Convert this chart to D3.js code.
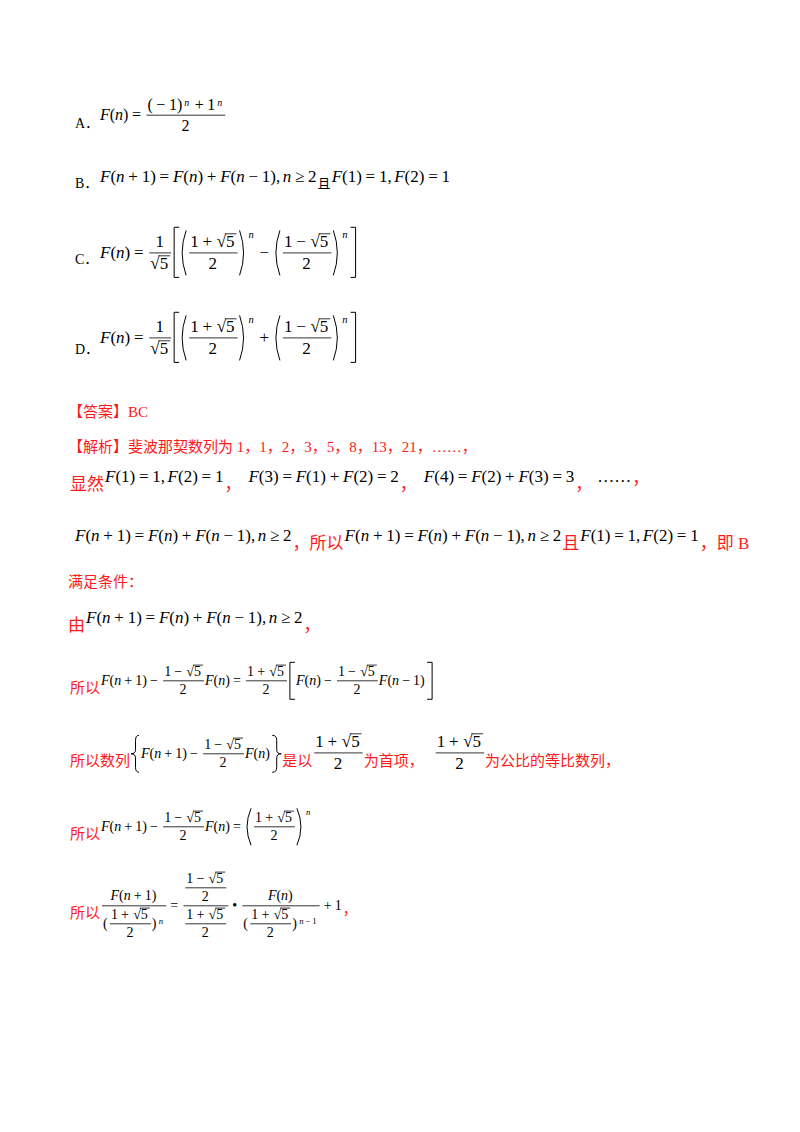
<!DOCTYPE html>
<html><head><meta charset="utf-8">
<script src="https://cdn.jsdelivr.net/npm/d3@7"></script>
<style>body{margin:0;background:#fff}</style>
</head><body>
<svg id="page" width="800" height="1132"></svg>
<script>
var RED = '#ff1a1a';
var MATHFONT = "Liberation Serif, Noto Sans CJK SC";

// text content
var optionLabels = ['A．', 'B．', 'C．', 'D．'];
var answerText = '【答案】BC';
var analysisText = '【解析】斐波那契数列为 1，1，2，3，5，8，13，21，……，';
var conditionText = '满足条件：';

function sq5() { return {sq: '5'}; }
function half(sign) { return {fr: [['1 ' + sign + ' ', sq5()], ['2']]}; }
var recur = 'F(n + 1) = F(n) + F(n − 1), n ≥ 2';

// each line: [x, baseline y, font size, parts]
var lines = [
  [75, 128, 14, [{c: optionLabels[0], col: '#000'}]],
  [100, 120, 16, ['F(n) = ', {fr: [['(−1)', {sup: 'n'}, ' + 1', {sup: 'n'}], ['2']]}]],
  [75, 188, 14, [{c: optionLabels[1], col: '#000'}]],
  [100, 182, 17, [recur, {c: '且', col: '#000', dy: 6, s: 13}, 'F(1) = 1, F(2) = 1']],
  [75, 264, 14, [{c: optionLabels[2], col: '#000'}]],
  [100, 258, 17, ['F(n) = ', {fr: [['1'], [sq5()]]},
    {p: [{p: [half('+')], o: '(', cl: ')'}, {sup: 'n'}, ' − ', {p: [half('−')], o: '(', cl: ')'}, {sup: 'n'}], o: '[', cl: ']'}]],
  [75, 354, 14, [{c: optionLabels[3], col: '#000'}]],
  [100, 343, 17, ['F(n) = ', {fr: [['1'], [sq5()]]},
    {p: [{p: [half('+')], o: '(', cl: ')'}, {sup: 'n'}, ' + ', {p: [half('−')], o: '(', cl: ')'}, {sup: 'n'}], o: '[', cl: ']'}]],
  [68, 417, 15, [{c: answerText}]],
  [68, 452, 15, [{c: analysisText}]],
  [70, 482, 17, [{c: '显然', dy: 8}, 'F(1) = 1, F(2) = 1', {c: '，', dy: 8}, {sp: 6}, 'F(3) = F(1) + F(2) = 2', {c: '，', dy: 8}, {sp: 6},
    'F(4) = F(2) + F(3) = 3', {c: '，', dy: 8}, {sp: 4}, '……', {c: '，', dy: 2}]],
  [75, 541, 17, [recur, {c: '，所以', dy: 8}, recur, {c: '且', dy: 8}, 'F(1) = 1, F(2) = 1', {c: '，即 B', dy: 8}]],
  [68, 587, 15, [{c: conditionText}]],
  [68, 623, 17, [{c: '由', dy: 8}, recur, {c: '，', dy: 8}]],
  [70, 685, 14, [{c: '所以', dy: 8, s: 15}, 'F(n + 1) − ', half('−'), ' F(n) = ', half('+'),
    {p: ['F(n) − ', half('−'), ' F(n − 1)'], o: '[', cl: ']'}]],
  [70, 758, 14, [{c: '所以数列', dy: 8, s: 15}, {p: ['F(n + 1) − ', half('−'), ' F(n)'], o: '{', cl: '}'},
    {c: '是以', dy: 8, s: 15}, {fr: [['1 + ', sq5()], ['2']], s: 17}, {c: '为首项，', dy: 8, s: 15}, {sp: 10},
    {fr: [['1 + ', sq5()], ['2']], s: 17}, {c: '为公比的等比数列，', dy: 8, s: 15}]],
  [70, 831, 14, [{c: '所以', dy: 8, s: 15}, 'F(n + 1) − ', half('−'), ' F(n) = ', {p: [half('+')], o: '(', cl: ')'}, {sup: 'n'}]],
  [70, 910, 14, [{c: '所以', dy: 8, s: 15},
    {fr: [['F(n + 1)'], ['(', half('+'), ')', {sup: 'n'}]]}, ' = ',
    {fr: [[half('−')], [half('+')]]}, '•',
    {fr: [['F(n)'], ['(', half('+'), ')', {sup: 'n − 1'}]]}, ' + 1', {c: '，', dy: 4}]]
];

var svg = d3.select('#page');

// lay out parts left to right at baseline 0, returns width
function lay(g, parts, size, col) {
  var x = 0, lastTop = -size * 0.7;
  parts.forEach(function(p) {
    var cg = g.append('g').attr('transform', 'translate(' + x + ',0)');
    var w = 0;
    if (typeof p === 'string') {
      w = mathText(cg, p, size, col);
      lastTop = -size * 0.72;
    } else if (p.c !== undefined) {
      var fs = p.s || size;
      var t = cg.append('text').attr('y', p.dy || 0).attr('font-family', MATHFONT)
        .attr('font-size', fs).attr('fill', p.col || RED).text(p.c);
      w = t.node().getComputedTextLength() + 1;
    } else if (p.sp !== undefined) {
      w = p.sp;
    } else if (p.sup !== undefined) {
      var ss = size * 0.62;
      var sg = cg.append('g').attr('transform', 'translate(1,' + (lastTop + ss * 0.75) + ')');
      w = mathText(sg, p.sup, ss, col) + 2;
    } else if (p.sq !== undefined) {
      var r = cg.append('text').attr('font-family', MATHFONT).attr('font-size', size).attr('fill', col).text('√');
      var rw = r.node().getComputedTextLength();
      var rg = cg.append('g').attr('transform', 'translate(' + rw + ',0)');
      var iw = mathText(rg, p.sq, size, col);
      cg.append('line').attr('x1', rw - 1).attr('x2', rw + iw + 1)
        .attr('y1', -size * 0.8).attr('y2', -size * 0.8).attr('stroke', col).attr('stroke-width', 0.8);
      w = rw + iw + 1;
      lastTop = -size * 0.8;
    } else if (p.fr) {
      var fs2 = p.s || size;
      var bar = -fs2 * 0.3;
      var ng = cg.append('g'), dg = cg.append('g');
      var nw = lay(ng, p.fr[0], fs2, col), dw = lay(dg, p.fr[1], fs2, col);
      var fw = Math.max(nw, dw) + 4;
      var nb = ng.node().getBBox(), db = dg.node().getBBox();
      ng.attr('transform', 'translate(' + ((fw - nw) / 2) + ',' + (bar - 1.5 - (nb.y + nb.height)) + ')');
      dg.attr('transform', 'translate(' + ((fw - dw) / 2) + ',' + (bar + 1.5 - db.y) + ')');
      cg.append('line').attr('x1', 1).attr('x2', fw - 1).attr('y1', bar).attr('y2', bar)
        .attr('stroke', col).attr('stroke-width', 0.8);
      w = fw;
      lastTop = bar - 2 - nb.height;
    } else if (p.p) {
      var dwid = p.o === '{' ? 9 : 7;
      var ig = cg.append('g').attr('transform', 'translate(' + (dwid + 1) + ',0)');
      var inner = lay(ig, p.p, size, col);
      var b = ig.node().getBBox();
      var top = b.y - 2, bot = b.y + b.height + 2;
      delim(cg, p.o, 0, dwid, top, bot, col, false);
      delim(cg, p.cl, dwid + inner + 2, dwid, top, bot, col, true);
      w = 2 * dwid + inner + 3;
      lastTop = top;
    }
    x += w;
  });
  return x;
}

// math text: letters italic, spacing around relations and operators
function mathText(g, s, size, col) {
  var t = g.append('text').attr('font-family', MATHFONT).attr('font-size', size).attr('fill', col);
  var pending = 0;
  s.split('').forEach(function(ch) {
    if (ch === ' ') return;
    var op = '=+−≥•'.indexOf(ch) >= 0;
    var ts = t.append('tspan').attr('dx', pending + (op ? size * 0.22 : 0)).text(ch);
    if (/[A-Za-z]/.test(ch)) ts.attr('font-style', 'italic');
    pending = op ? size * 0.22 : (ch === ',' ? size * 0.15 : 0);
  });
  var bb = t.node().getBBox();
  return bb.x + bb.width + pending + 1;
}

function delim(g, ch, x, w, top, bot, col, right) {
  var mid = (top + bot) / 2, d;
  var a = right ? x : x + w - 1, e = right ? x + w - 1 : x;
  if (ch === '(' || ch === ')') {
    d = 'M' + a + ',' + top + 'Q' + (right ? e + 2 : e - 2) + ',' + mid + ' ' + a + ',' + bot;
  } else if (ch === '[' || ch === ']') {
    var q = right ? x + w - 2 : x + 2;
    var o = right ? x : x + w;
    d = 'M' + o + ',' + top + 'H' + q + 'V' + bot + 'H' + o;
  } else {
    var c = x + w / 2, tip = right ? x + w : x;
    d = 'M' + a + ',' + top + 'Q' + c + ',' + top + ' ' + c + ',' + (top + 5) + 'V' + (mid - 4) +
      'Q' + c + ',' + mid + ' ' + tip + ',' + mid + 'Q' + c + ',' + mid + ' ' + c + ',' + (mid + 4) +
      'V' + (bot - 5) + 'Q' + c + ',' + bot + ' ' + a + ',' + bot;
  }
  g.append('path').attr('d', d).attr('fill', 'none').attr('stroke', col).attr('stroke-width', 1);
}

lines.forEach(function(l) {
  var g = svg.append('g').attr('transform', 'translate(' + l[0] + ',' + l[1] + ')');
  lay(g, l[3], l[2], '#000');
});
</script>
</body></html>
